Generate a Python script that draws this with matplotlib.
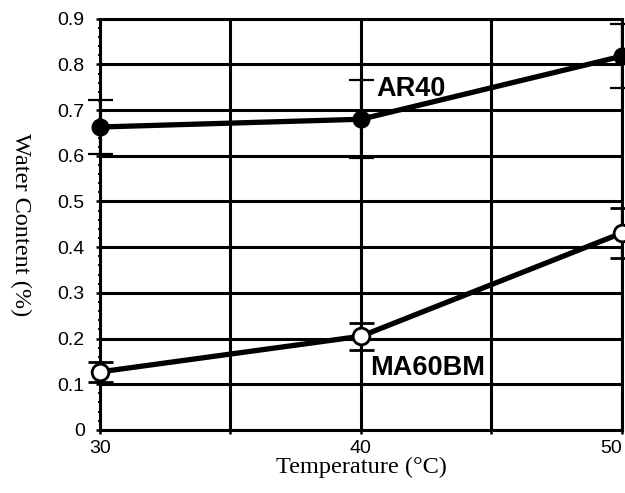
import matplotlib.pyplot as plt
from matplotlib.ticker import MultipleLocator

# data
temps = [30, 40, 50]
ar40 = [0.663, 0.68, 0.818]
ar40_err = [0.06, 0.085, 0.07]
ma60bm = [0.127, 0.205, 0.431]
ma60bm_err = [0.022, 0.03, 0.055]

fig = plt.figure(figsize=(6.25, 4.93), dpi=100)
ax = fig.add_axes([0.16, 0.128, 0.835, 0.834])

# AR40 - filled circles
ax.errorbar(temps, ar40, yerr=ar40_err, color='black', lw=3.8, marker='o',
            ms=12, mfc='black', mec='black', capsize=9, elinewidth=1.6,
            capthick=1.6, clip_on=False, zorder=3)
# MA60BM - open circles
ax.errorbar(temps, ma60bm, yerr=ma60bm_err, color='black', lw=3.8, marker='o',
            ms=12, mfc='white', mec='black', mew=2, capsize=9, elinewidth=1.6,
            capthick=1.6, clip_on=False, zorder=3)

ax.text(40.6, 0.73, 'AR40', fontsize=19.5, fontweight='bold',
        family='Liberation Sans')
ax.text(40.35, 0.12, 'MA60BM', fontsize=19.5, fontweight='bold',
        family='Liberation Sans')

ax.set_xlim(30, 50)
ax.set_ylim(0, 0.9)
ax.set_xticks([30, 35, 40, 45, 50])
ax.set_xticklabels(['30', '', '40', '', '50'])
ax.set_yticks([i / 10 for i in range(10)])
ax.set_yticklabels(['0'] + ['%.1f' % (i / 10) for i in range(1, 10)])
ax.yaxis.set_minor_locator(MultipleLocator(0.02))
ax.tick_params(axis='both', which='major', direction='inout', length=6,
               width=1.8, labelsize=14)
ax.tick_params(axis='y', which='major', pad=8)
ax.tick_params(axis='x', which='major', pad=4)
ax.tick_params(axis='y', which='minor', direction='inout', length=3, width=1.3)
for lab in ax.get_xticklabels() + ax.get_yticklabels():
    lab.set_family('Liberation Sans')
ax.get_xticklabels()[-1].set_ha('right')

ax.grid(True, which='major', color='black', lw=2.2)
for s in ax.spines.values():
    s.set_linewidth(2.2)

ax.set_xlabel('Temperature (\u00b0C)', family='Liberation Serif', fontsize=17.5,
              labelpad=0)
ax.set_ylabel('Water Content (%)', family='Liberation Serif', fontsize=17.5,
              rotation=-90, labelpad=34)

fig.savefig('out.png', dpi=100)
